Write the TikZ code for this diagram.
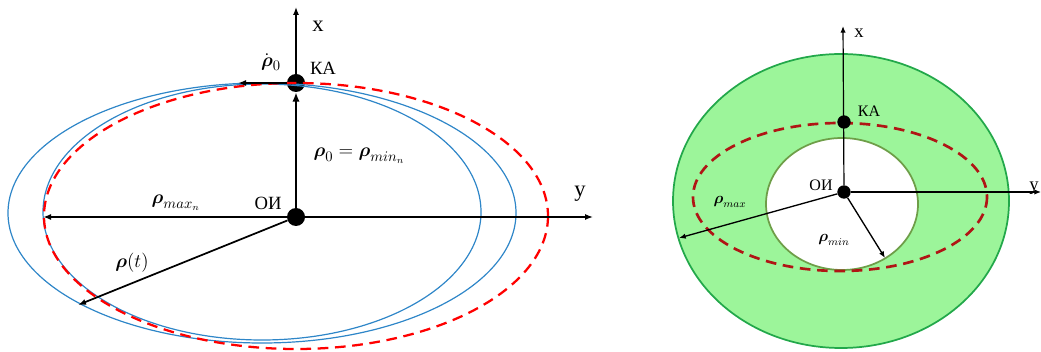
\documentclass[tikz,border=0pt]{standalone}
\usepackage{amsmath,amssymb}
\usepackage{fontspec}
\setmainfont{Liberation Serif}
\usetikzlibrary{arrows.meta}
\definecolor{orbblue}{HTML}{2E86C8}
\definecolor{ringgreen}{HTML}{9CF59A}
\definecolor{ringedge}{HTML}{22A84A}
\definecolor{holeedge}{HTML}{6E9E48}
\definecolor{darkred}{HTML}{B01515}

\begin{document}
\begin{tikzpicture}[
  x=0.75pt, y=-0.75pt,
  dot/.style={circle, fill=black, inner sep=0pt, minimum size=#1},
  dot/.default=13.5pt,
  axis/.style={-{Latex[length=6pt, width=4.5pt]}, line width=1pt},
  arr/.style={-{Latex[length=6pt, width=4.5pt]}, line width=1.3pt},
  orb/.style={orbblue, line width=0.9pt},
  dsh/.style={dashed, dash pattern=on 8pt off 5pt, line width=1.7pt},
  lbl/.style={inner sep=1pt, font=\fontsize{14}{16}\selectfont},
  mlbl/.style={inner sep=1pt, font=\fontsize{15}{17}\selectfont}
]
\useasboundingbox (0,0) rectangle (1041,352);

% ---------- left: drifting orbit ----------
\node[dot] (oi) at (296,217) {};
\node[dot] (ka) at (296,83) {};
\coordinate (xtip) at (296,7);
\coordinate (ytip) at (593,217);
\coordinate (maxn) at (43,217);
\coordinate (rt) at (78,305);
\coordinate (vel) at (238,83);

\draw[orb] (262,213) ellipse [x radius=254, y radius=130];
\draw[orb] (262,212) ellipse [x radius=219, y radius=128];
\draw[dsh, red] (296,216) ellipse [x radius=252, y radius=133];

\draw[axis] (ka) -- (xtip);
\draw[axis] (oi) -- (ytip);
\draw[-{Latex[length=7pt, width=5.5pt]}, line width=2pt] (oi) -- (ka.south);
\draw[arr] (oi) -- (maxn);
\draw[arr] (oi) -- (rt);
\draw[arr] (ka) -- (vel);

\node[lbl, font=\fontsize{17}{19}\selectfont] (xlab) at (318,26) {x};
\node[lbl, font=\fontsize{17}{19}\selectfont] (ylab) at (580,194) {y};
\node[lbl] (kalab) at (323,68) {КА};
\node[lbl] (oilab) at (268,203) {ОИ};
\node[mlbl, inner sep=0pt] (vlab) at (271,62) {$\dot{\boldsymbol{\rho}}_0$};
\node[mlbl] (maxlab) at (176,203) {$\boldsymbol{\rho}_{max_n}$};
\node[mlbl] (rtlab) at (132,263) {$\boldsymbol{\rho}(t)$};
\node[mlbl, anchor=west] (minlab) at (312,156) {$\boldsymbol{\rho}_0=\boldsymbol{\rho}_{min_n}$};

% ---------- right: admissible region ----------
\draw[ringedge, fill=ringgreen, line width=1.3pt] (841,201) ellipse [x radius=168, y radius=147];
\draw[holeedge, fill=white, line width=1.3pt] (842,204) ellipse [x radius=76, y radius=66];
\draw[dsh, darkred, line width=2pt] (840,197) ellipse [x radius=147, y radius=74];

\node[dot=10pt] (oi2) at (844,192) {};
\node[dot=10pt] (ka2) at (844,122) {};
\coordinate (xtip2) at (843,26);
\coordinate (ytip2) at (1041,192);
\coordinate (pmax) at (679,238);
\coordinate (pmin) at (885,258);

\draw[axis, line width=0.9pt, -{Latex[length=5pt, width=4pt]}] (oi2) -- (xtip2);
\draw[axis, line width=0.9pt, -{Latex[length=5pt, width=4pt]}] (oi2) -- (ytip2);
\draw[arr, line width=1pt, -{Latex[length=5pt, width=4pt]}] (oi2) -- (pmax);
\draw[arr, line width=1pt, -{Latex[length=5pt, width=4pt]}] (oi2) -- (pmin);

\node[lbl, font=\fontsize{14}{16}\selectfont] (xlab2) at (859,33) {x};
\node[lbl, font=\fontsize{14}{16}\selectfont] (ylab2) at (1034,188) {y};
\node[lbl, font=\fontsize{12}{14}\selectfont] (kalab2) at (869,111) {КА};
\node[lbl, font=\fontsize{12}{14}\selectfont] (oilab2) at (821,185) {ОИ};
\node[mlbl, font=\fontsize{12}{14}\selectfont] (maxlab2) at (730,202) {$\boldsymbol{\rho}_{max}$};
\node[mlbl, font=\fontsize{12}{14}\selectfont] (minlab2) at (834,240) {$\boldsymbol{\rho}_{min}$};
\end{tikzpicture}
\end{document}
